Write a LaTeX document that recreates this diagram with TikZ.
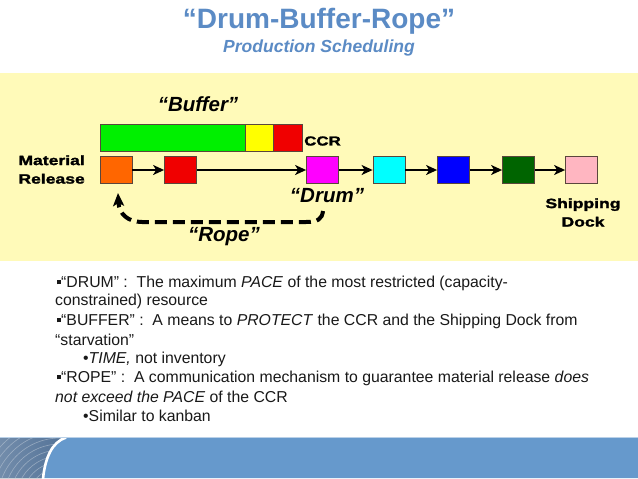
\documentclass[tikz,border=0pt]{standalone}
\usepackage{fontspec}
\setmainfont{Liberation Sans}
\newfontfamily\heavyfont[FakeStretch=1.3,FakeBold=1.8]{Liberation Sans}
\usetikzlibrary{arrows.meta,calc}
\definecolor{titleblue}{RGB}{91,139,197}
\definecolor{bgyellow}{RGB}{255,250,185}
\definecolor{cOrange}{RGB}{255,102,0}
\definecolor{cRed}{RGB}{240,0,0}
\definecolor{cMagenta}{RGB}{255,0,255}
\definecolor{cCyan}{RGB}{0,255,255}
\definecolor{cBlue}{RGB}{0,0,255}
\definecolor{cDkGreen}{RGB}{0,100,0}
\definecolor{cPink}{RGB}{255,182,193}
\definecolor{cGreen}{RGB}{0,240,0}
\definecolor{cYellow}{RGB}{255,255,0}
\definecolor{bandblue}{RGB}{102,153,204}
\definecolor{texblue}{RGB}{80,112,150}
\definecolor{boxedge}{RGB}{90,70,60}
\tikzset{
  sq/.style={draw=boxedge, line width=0.8pt, minimum width=32pt, minimum height=27pt, inner sep=0pt},
  barseg/.style={draw=boxedge, line width=0.6pt},
  flow/.style={line width=1.5pt, -{Stealth[length=11pt,width=10pt,inset=3pt]}},
  ropeline/.style={line width=4pt, dash pattern=on 12pt off 6pt, -{Stealth[length=13pt,width=11pt,inset=3pt]}},
  heavylbl/.style={font=\heavyfont\bfseries\fontsize{13.5}{18.5}\selectfont, inner sep=0pt},
  italbl/.style={font=\bfseries\itshape\fontsize{20.5}{24}\selectfont, inner sep=0pt},
  bodytext/.style={font=\fontsize{15.8}{19}\selectfont, text=black!90, inner sep=0pt, anchor=west}
}
\newcommand{\sqbul}{\raisebox{2.6pt}{\rule{4pt}{4pt}}}
\begin{document}
\begin{tikzpicture}[x=1pt,y=-1pt]
\useasboundingbox (0,0) rectangle (638,479);
\fill[white] (0,0) rectangle (638,479);
% title
\node[font=\bfseries\fontsize{28}{32}\selectfont, text=titleblue, inner sep=0pt] (title) at (319,21) {“Drum-Buffer-Rope”};
\node[font=\bfseries\itshape\fontsize{17.5}{20}\selectfont, text=titleblue, inner sep=0pt] (subtitle) at (319,48) {Production Scheduling};
% yellow band
\fill[bgyellow] (0,73) rectangle (638,261);
% buffer bar
\node[italbl] (buffer) at (198,104) {“Buffer”};
\draw[barseg, fill=cGreen] (100,124) rectangle (245,151);
\draw[barseg, fill=cYellow] (245,124) rectangle (273,151);
\draw[barseg, fill=cRed] (273,124) rectangle (302,151);
\node[font=\heavyfont\bfseries\fontsize{13}{14}\selectfont, inner sep=0pt, anchor=west] (ccr) at (304,141) {CCR};
% squares
\node[sq, fill=cOrange] (s1) at (116,170) {};
\node[sq, fill=cRed] (s2) at (180.5,170) {};
\node[sq, fill=cMagenta] (s3) at (322.5,170) {};
\node[sq, fill=cCyan] (s4) at (389,170) {};
\node[sq, fill=cBlue] (s5) at (453.5,170) {};
\node[sq, fill=cDkGreen] (s6) at (518.5,170) {};
\node[sq, fill=cPink] (s7) at (581.5,170) {};
\draw[flow] (s1) -- (s2);
\draw[flow] (s2) -- (s3);
\draw[flow] (s3) -- (s4);
\draw[flow] (s4) -- (s5);
\draw[flow] (s5) -- (s6);
\draw[flow] (s6) -- (s7);
% labels
\node[heavylbl, align=right, anchor=east] (mat) at (85,169.5) {Material\\Release};
\node[heavylbl, align=center] (ship) at (583,212.5) {Shipping\\Dock};
\node[italbl] (drum) at (327,196) {“Drum”};
\node[italbl] (rope) at (224,237) {“Rope”};
% rope
\coordinate (ropeS) at (323,211);
\coordinate (ropeE) at (118,193);
\draw[ropeline] (ropeS) .. controls (322,219) and (318,222) .. (306,222) -- (142,222) .. controls (128,222) and (119,214) .. (ropeE);
% bullet text
\node[bodytext] (l1) at (57,283) {\sqbul“DRUM” :\ \ The maximum \textit{PACE} of the most restricted (capacity-};
\node[bodytext] (l2) at (55,301.5) {constrained) resource};
\node[bodytext] (l3) at (57,321) {\sqbul“BUFFER” :\ \ A means to \textit{PROTECT} the CCR and the Shipping Dock from};
\node[bodytext] (l4) at (55,340) {“starvation”};
\node[bodytext] (l5) at (83,359.5) {•\textit{TIME,} not inventory};
\node[bodytext] (l6) at (57,378) {\sqbul“ROPE” :\ \ A communication mechanism to guarantee material release \textit{does}};
\node[bodytext] (l7) at (55,397) {\textit{not exceed the PACE} of the CCR};
\node[bodytext] (l8) at (83,416) {•Similar to kanban};
% bottom band
\fill[bandblue] (66,438) -- (638,438) -- (638,478) -- (43,478) .. controls (45,458) and (52,442) .. cycle;
\begin{scope}
\clip (0,438) -- (66,438) .. controls (52,442) and (45,458) .. (43,478) -- (0,478) -- cycle;
\fill[left color=texblue!80!white, right color=texblue] (0,436) rectangle (70,479);
\foreach \r in {8,14,...,80}{
  \draw[white!60!texblue, line width=0.6pt, opacity=0.6] (60,500) circle (\r);
}
\end{scope}
\draw[white, line width=2.6pt] (66,437.5) .. controls (52,442) and (45,458) .. (43,479);
\draw[bandblue!45!white, line width=0.8pt] (0,437.5) -- (638,437.5);
\end{tikzpicture}
\end{document}
